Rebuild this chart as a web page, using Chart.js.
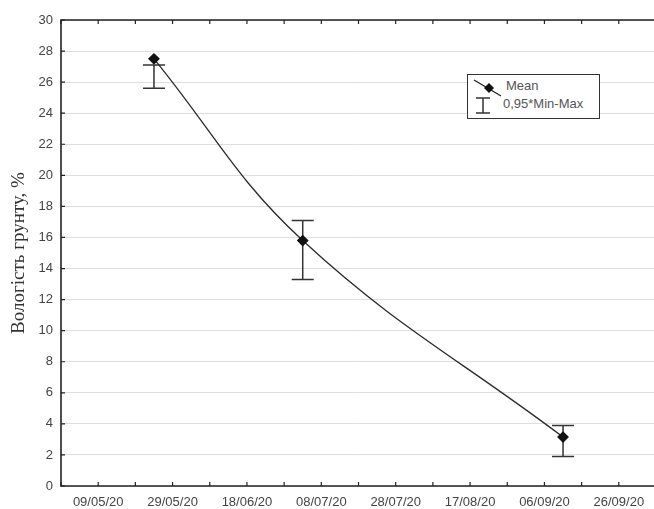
<!DOCTYPE html>
<html lang="uk">
<head>
  <meta charset="UTF-8">
  <title>Вологість ґрунту</title>
  <script src="https://cdn.jsdelivr.net/npm/chart.js"></script>
  <style>
    html, body { margin: 0; padding: 0; background: #fff; overflow: hidden; }
    #wrap { position: relative; width: 654px; height: 509px; overflow: hidden; }
    #chart { position: absolute; left: 0; top: 0; }
    .legend {
      position: absolute; left: 467px; top: 74px; width: 131px; height: 43px;
      border: 1.5px solid #333; background: #fff;
      font: 13px "Liberation Sans", Arial, sans-serif; color: #555;
    }
    .legend svg { position: absolute; left: 0; top: 0; }
    .legend span { position: absolute; left: 38px; }
  </style>
</head>
<body>
  <div id="wrap">
    <canvas id="chart" width="665" height="509"></canvas>
    <div class="legend">
      <svg width="40" height="43">
        <line x1="6" y1="5" x2="33" y2="21" stroke="#222" stroke-width="1.3"/>
        <polygon points="21,8 26,13 21,18 16,13" fill="#111"/>
        <line x1="15" y1="23" x2="15" y2="38" stroke="#333" stroke-width="1.5"/>
        <line x1="8" y1="23" x2="22" y2="23" stroke="#333" stroke-width="1.5"/>
        <line x1="8" y1="38" x2="22" y2="38" stroke="#333" stroke-width="1.5"/>
      </svg>
      <span style="top:3px">Mean</span>
      <span style="top:21px; left:35px">0,95*Min-Max</span>
    </div>
  </div>
  <script>
    // data
    const pointDates = ['24/05/20', '03/07/20', '11/09/20'];
    const meanValues = [27.5, 15.8, 3.15];
    const minValues = [25.6, 13.3, 1.9];
    const maxValues = [27.1, 17.1, 3.9];
    const xTickLabels = ['09/05/20', '29/05/20', '18/06/20', '08/07/20', '28/07/20', '17/08/20', '06/09/20', '26/09/20'];
    const yTitle = 'Вологість грунту, %';

    // days counted from the first tick label
    function dayOf(s) {
      const p = s.split('/').map(Number);
      const base = Date.UTC(2020, 4, 9);
      return Math.round((Date.UTC(2000 + p[2], p[1] - 1, p[0]) - base) / 86400000);
    }
    const points = pointDates.map((d, i) => ({ x: dayOf(d), y: meanValues[i] }));

    const font = { family: '"Liberation Sans", Arial, sans-serif', size: 13 };

    // frame, inside ticks and error bars
    const decor = {
      id: 'decor',
      beforeDatasetsDraw(chart) {
        const { ctx, scales: { x, y } } = chart;
        ctx.save();
        ctx.strokeStyle = '#333';
        ctx.lineWidth = 1.5;
        pointDates.forEach((d, i) => {
          const px = x.getPixelForValue(dayOf(d));
          const top = y.getPixelForValue(maxValues[i]);
          const bot = y.getPixelForValue(minValues[i]);
          ctx.beginPath();
          ctx.moveTo(px, top); ctx.lineTo(px, bot);
          ctx.moveTo(px - 11, top); ctx.lineTo(px + 11, top);
          ctx.moveTo(px - 11, bot); ctx.lineTo(px + 11, bot);
          ctx.stroke();
        });
        ctx.restore();
      },
      afterDraw(chart) {
        const { ctx, chartArea: a, scales: { x, y } } = chart;
        ctx.save();
        ctx.strokeStyle = '#222';
        ctx.lineWidth = 1.6;
        ctx.beginPath();
        ctx.moveTo(a.right, a.top); ctx.lineTo(a.left, a.top);
        ctx.lineTo(a.left, a.bottom); ctx.lineTo(a.right, a.bottom);
        ctx.stroke();
        ctx.lineWidth = 1.2;
        ctx.beginPath();
        x.ticks.forEach(t => {
          const px = x.getPixelForValue(t.value);
          ctx.moveTo(px, a.bottom); ctx.lineTo(px, a.bottom - 4);
          ctx.moveTo(px, a.top); ctx.lineTo(px, a.top + 4);
        });
        y.ticks.forEach(t => {
          const py = y.getPixelForValue(t.value);
          ctx.moveTo(a.left, py); ctx.lineTo(a.left + 4, py);
        });
        ctx.stroke();
        ctx.restore();
      }
    };

    new Chart(document.getElementById('chart'), {
      type: 'line',
      data: {
        datasets: [{
          data: points,
          borderColor: '#2a2a2a',
          borderWidth: 1.3,
          tension: 0.4,
          pointStyle: 'rectRot',
          pointRadius: 5,
          pointBackgroundColor: '#111',
          pointBorderColor: '#111',
          fill: false
        }]
      },
      options: {
        responsive: false,
        animation: false,
        devicePixelRatio: 1,
        layout: { padding: { top: 20, right: 3, left: 0, bottom: 0 } },
        plugins: { legend: { display: false }, tooltip: { enabled: false } },
        scales: {
          x: {
            type: 'linear',
            min: -10,
            max: 150,
            afterFit(s) { s.height = 23; },
            grid: { display: false, drawTicks: false },
            border: { display: false },
            ticks: {
              stepSize: 10,
              autoSkip: false,
              maxRotation: 0,
              padding: 9,
              color: '#444',
              font: font,
              callback(v) {
                if (v < 0 || v % 20 !== 0) return '';
                return xTickLabels[v / 20] || '';
              }
            }
          },
          y: {
            min: 0,
            max: 30,
            afterFit(s) { s.width = 61; },
            grid: { color: '#dedede', lineWidth: 1, drawTicks: false },
            border: { display: false },
            ticks: { stepSize: 2, padding: 8, color: '#444', font: font },
            title: {
              display: true,
              text: yTitle,
              color: '#333',
              padding: { top: 8, bottom: 0 },
              font: { family: '"Liberation Serif", "Times New Roman", serif', size: 19 }
            }
          }
        }
      },
      plugins: [decor]
    });
  </script>
</body>
</html>
